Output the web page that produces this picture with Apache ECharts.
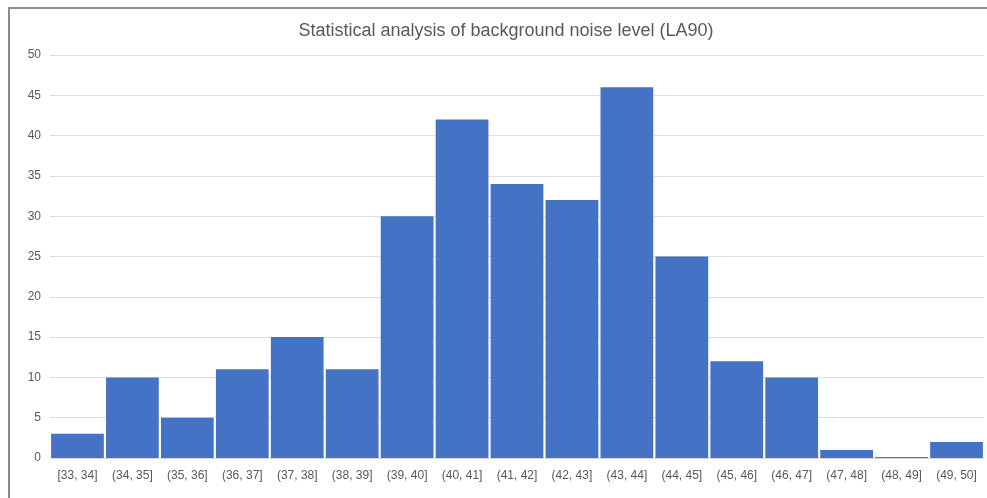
<!DOCTYPE html>
<html>
<head>
<meta charset="utf-8">
<script src="https://cdn.jsdelivr.net/npm/echarts@6/dist/echarts.min.js"></script>
<style>
  html, body { margin: 0; padding: 0; background: #fff; }
  #chart { width: 987px; height: 498px; }
</style>
</head>
<body>
<div id="chart"></div>
<script>
// Histogram bins of LA90 (dB) and the number of samples in each bin
const bins = ['[33, 34]', '(34, 35]', '(35, 36]', '(36, 37]', '(37, 38]', '(38, 39]',
  '(39, 40]', '(40, 41]', '(41, 42]', '(42, 43]', '(43, 44]', '(44, 45]',
  '(45, 46]', '(46, 47]', '(47, 48]', '(48, 49]', '(49, 50]'];
const counts = [3, 10, 5, 11, 15, 11, 30, 42, 34, 32, 46, 25, 12, 10, 1, 0, 2];
const titleText = 'Statistical analysis of background noise level (LA90)';

const chart = echarts.init(document.getElementById('chart'), null, { renderer: 'canvas' });
const fontFam = 'Liberation Sans, Arial, sans-serif';

chart.setOption({
  backgroundColor: '#ffffff',
  animation: false,
  title: {
    text: titleText,
    left: 501,
    top: 17,
    textAlign: 'center',
    textStyle: { color: '#595959', fontSize: 18, fontWeight: 'normal', fontFamily: fontFam }
  },
  graphic: [{
    type: 'rect',
    shape: { x: 9, y: 8, width: 1000, height: 520 },
    style: { fill: 'none', stroke: '#8c8c8c', lineWidth: 2 },
    silent: true
  }],
  grid: { left: 50, right: 3, top: 55, bottom: 40, containLabel: false },
  xAxis: {
    type: 'category',
    data: bins,
    axisLine: { lineStyle: { color: '#d9d9d9', width: 1 } },
    axisTick: { show: false },
    axisLabel: { interval: 0, color: '#595959', fontSize: 12, fontFamily: fontFam, margin: 12 }
  },
  yAxis: {
    type: 'value',
    min: 0,
    max: 50,
    interval: 5,
    axisLine: { show: false },
    axisTick: { show: false },
    splitLine: { lineStyle: { color: '#dedede', width: 1 } },
    axisLabel: { color: '#595959', fontSize: 12, fontFamily: fontFam, margin: 9 }
  },
  series: [{
    type: 'bar',
    data: counts,
    barCategoryGap: '4%',
    barMinHeight: 1,
    itemStyle: { color: '#4472c4' }
  }]
});
</script>
</body>
</html>
